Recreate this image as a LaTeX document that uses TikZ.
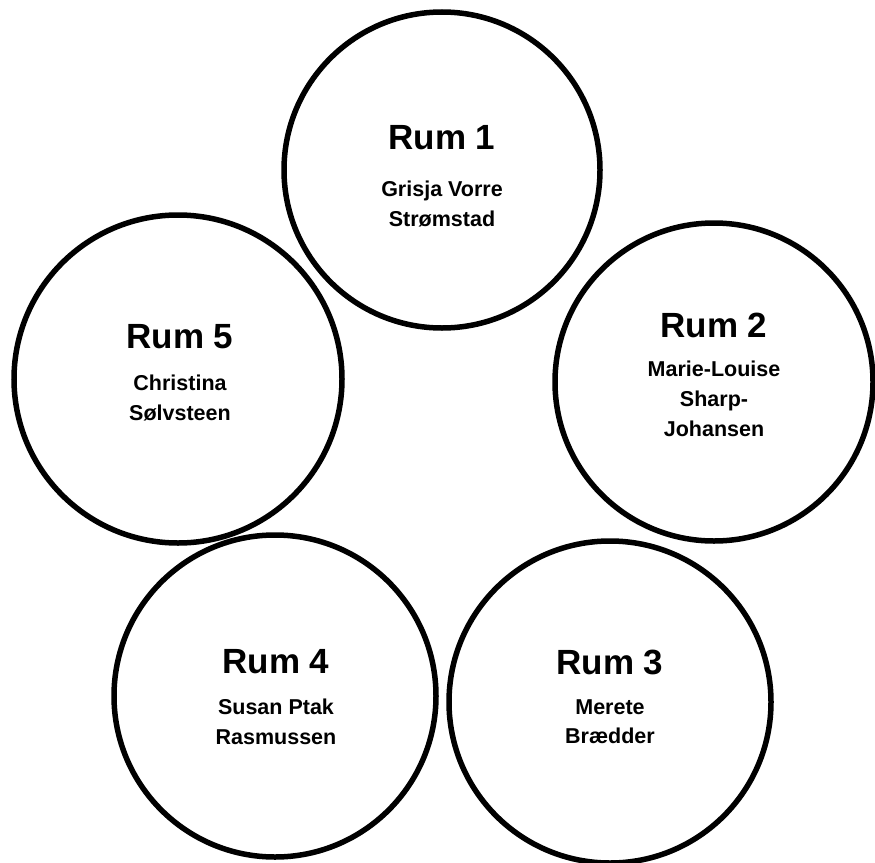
\documentclass[tikz,border=0pt]{standalone}
\usepackage{fontspec}
\setmainfont{Liberation Sans}
\begin{document}
\begin{tikzpicture}[x=1pt,y=-1pt,
  room/.style={circle,draw=black,line width=5.5pt,minimum size=#1,inner sep=0pt},
  title/.style={font=\bfseries\fontsize{35}{40}\selectfont,inner sep=0pt,anchor=center},
  names/.style={font=\bfseries\fontsize{21.5}{29.7}\selectfont,align=center,inner sep=0pt,anchor=north}]
\useasboundingbox (0,0) rectangle (875,862);
\node[room=316pt] (c1) at (442,170) {};
\node[room=318pt] (c2) at (714,382) {};
\node[room=328pt] (c5) at (178,379) {};
\node[room=322pt] (c4) at (275,696) {};
\node[room=322pt] (c3) at (610,702) {};
\node[title] (r1) at (442,138) {Rum 1};
\node[names] (n1) at (442,181) {Grisja Vorre\\Strømstad};
\node[title] (r2) at (714,325) {Rum 2};
\node[names] (n2) at (714,361) {Marie-Louise\\Sharp-\\Johansen};
\node[title] (r5) at (180,337) {Rum 5};
\node[names] (n5) at (180,375) {Christina\\Sølvsteen};
\node[title] (r4) at (276,662) {Rum 4};
\node[names] (n4) at (276,699) {Susan Ptak\\Rasmussen};
\node[title] (r3) at (610,662) {Rum 3};
\node[names] (n3) at (610,699) {Merete\\Brædder};
\end{tikzpicture}
\end{document}
